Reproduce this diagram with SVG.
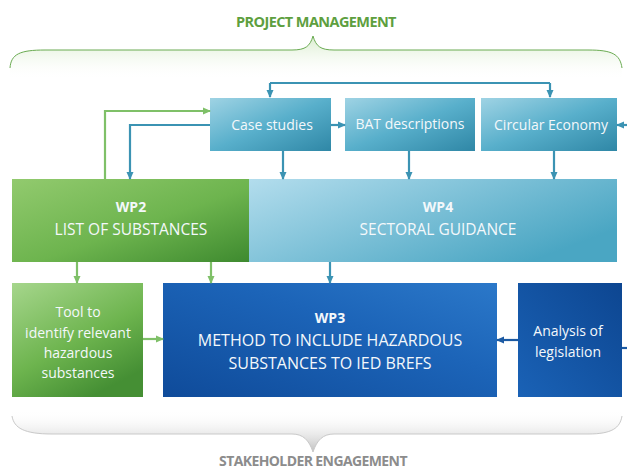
<svg xmlns="http://www.w3.org/2000/svg" width="627" height="470" viewBox="0 0 627 470">
<defs>
<linearGradient id="gLight" x1="0" y1="0" x2="1" y2="1">
<stop offset="0" stop-color="#9fd3e4"/><stop offset="0.5" stop-color="#58afcb"/><stop offset="1" stop-color="#2f87a6"/>
</linearGradient>
<linearGradient id="gWp4" x1="0" y1="0" x2="1" y2="0.6">
<stop offset="0" stop-color="#b3dded"/><stop offset="1" stop-color="#4aa6c3"/>
</linearGradient>
<linearGradient id="gGreen" x1="0" y1="0" x2="1" y2="1">
<stop offset="0" stop-color="#92ca6e"/><stop offset="0.55" stop-color="#6db44e"/><stop offset="1" stop-color="#3e8a2f"/>
</linearGradient>
<linearGradient id="gTool" x1="0" y1="0" x2="0.6" y2="1">
<stop offset="0" stop-color="#a6d68c"/><stop offset="0.6" stop-color="#6db44e"/><stop offset="1" stop-color="#458f34"/>
</linearGradient>
<linearGradient id="gDark" x1="0" y1="1" x2="1" y2="0">
<stop offset="0" stop-color="#0f4b9a"/><stop offset="0.6" stop-color="#1c64b8"/><stop offset="1" stop-color="#2b78c9"/>
</linearGradient>
<linearGradient id="gDark2" x1="0" y1="1" x2="1" y2="0">
<stop offset="0" stop-color="#1a62b6"/><stop offset="1" stop-color="#0d4691"/>
</linearGradient>
<linearGradient id="gTopBrace" x1="0" y1="0" x2="0" y2="1">
<stop offset="0" stop-color="#a9d68e" stop-opacity="0.45"/><stop offset="1" stop-color="#ffffff" stop-opacity="0"/>
</linearGradient>
<linearGradient id="gBotBrace" x1="0" y1="0" x2="0" y2="1">
<stop offset="0" stop-color="#ffffff" stop-opacity="0"/><stop offset="1" stop-color="#b8b8b8" stop-opacity="0.9"/>
</linearGradient>
<marker id="aB" markerWidth="8" markerHeight="8" refX="7" refY="4" orient="auto" markerUnits="userSpaceOnUse">
<path d="M0,0.5 L8,4 L0,7.5 z" fill="#3b93b3"/>
</marker>
<marker id="aG" markerWidth="8" markerHeight="8" refX="7" refY="4" orient="auto" markerUnits="userSpaceOnUse">
<path d="M0,0.5 L8,4 L0,7.5 z" fill="#7fc068"/>
</marker>
<marker id="aD" markerWidth="8" markerHeight="8" refX="7" refY="4" orient="auto" markerUnits="userSpaceOnUse">
<path d="M0,0.5 L8,4 L0,7.5 z" fill="#1c5aa3"/>
</marker>
</defs>
<style>
text{font-family:"Open Sans","DejaVu Sans",sans-serif;fill:#f4f8fb;text-anchor:middle}
.sm{font-size:14px}
.wp{font-size:14px;font-weight:bold}
.md{font-size:15.5px}
.lg{font-size:16px}
.lb{stroke:#3b93b3;stroke-width:2.2;fill:none}
.gr{stroke:#7fc068;stroke-width:2.2;fill:none}
.db{stroke:#1c5aa3;stroke-width:2.2;fill:none}
.hdr{font-size:14.5px;font-weight:bold;letter-spacing:-0.6px}
</style>

<g id="project-management">
<path d="M10,68 C11,54 20,50 45,50 L292,50 C306,50 310,46 313,36 C316,46 320,50 334,50 L588,50 C612,50 620,54 622,68 L622,80 L10,80 z" fill="url(#gTopBrace)"/>
<path d="M10,68 C11,54 20,50 45,50 L292,50 C306,50 310,46 313,36 C316,46 320,50 334,50 L588,50 C612,50 620,54 622,68" fill="none" stroke="#6aab52" stroke-width="1"/>
<text x="316" y="27" class="hdr" style="fill:#5e9f3f">PROJECT MANAGEMENT</text>
</g>

<g id="stakeholder-engagement">
<path d="M12,416 C14,428 24,434 52,434 L292,434 C303,434 309,440 313,452 C317,440 323,434 334,434 L588,434 C612,434 620,428 622,416 L622,410 L12,410 z" fill="url(#gBotBrace)"/>
<path d="M12,416 C14,428 24,434 52,434 L292,434 C303,434 309,440 313,452 C317,440 323,434 334,434 L588,434 C612,434 620,428 622,416" fill="none" stroke="#c9c9c9" stroke-width="1"/>
<text x="313" y="466" class="hdr" style="fill:#8c8c8c;font-size:14px">STAKEHOLDER ENGAGEMENT</text>
</g>

<g id="case-studies">
<rect x="210" y="98" width="121" height="53" fill="url(#gLight)"/>
<text x="272" y="130" class="sm">Case studies</text>
</g>
<g id="bat-descriptions">
<rect x="345" y="98" width="130" height="53" fill="url(#gLight)"/>
<text x="410" y="129" class="sm">BAT descriptions</text>
</g>
<g id="circular-economy">
<rect x="481" y="98" width="136" height="53" fill="url(#gLight)"/>
<text x="551" y="130" class="sm">Circular Economy</text>
</g>

<g id="wp2">
<rect x="12" y="179" width="237" height="83" fill="url(#gGreen)"/>
<text x="131" y="212" class="wp">WP2</text>
<text x="131" y="235" class="md">LIST OF SUBSTANCES</text>
</g>
<g id="wp4">
<rect x="249" y="179" width="368" height="83" fill="url(#gWp4)"/>
<text x="438" y="212" class="wp">WP4</text>
<text x="438" y="235" class="md">SECTORAL GUIDANCE</text>
</g>

<g id="tool">
<rect x="12" y="283" width="131" height="114" fill="url(#gTool)"/>
<text x="78" y="317" class="sm">Tool to</text>
<text x="78" y="338" class="sm">identify relevant</text>
<text x="78" y="358" class="sm">hazardous</text>
<text x="78" y="378" class="sm">substances</text>
</g>
<g id="wp3">
<rect x="163" y="283" width="334" height="114" fill="url(#gDark)"/>
<text x="330" y="323" class="wp">WP3</text>
<text x="330" y="346" class="lg">METHOD TO INCLUDE HAZARDOUS</text>
<text x="330" y="369" class="lg">SUBSTANCES TO IED BREFS</text>
</g>
<g id="analysis">
<rect x="518" y="283" width="104" height="114" fill="url(#gDark2)"/>
<text x="568" y="336" class="sm">Analysis of</text>
<text x="568" y="357" class="sm">legislation</text>
</g>

<g id="connectors">
<path class="lb" d="M270,83 L550,83"/>
<path class="lb" d="M550,83 L550,97" marker-end="url(#aB)"/>
<path class="lb" d="M270,83 L270,97" marker-end="url(#aB)"/>
<path class="lb" d="M331,125 L345,125" marker-end="url(#aB)"/>
<path class="lb" d="M627,125 L617,125" marker-end="url(#aB)"/>
<path class="lb" d="M283,151 L283,179" marker-end="url(#aB)"/>
<path class="lb" d="M409,151 L409,179" marker-end="url(#aB)"/>
<path class="lb" d="M554,151 L554,179" marker-end="url(#aB)"/>
<path class="lb" d="M210,125 L130,125 L130,179" marker-end="url(#aB)"/>
<path class="gr" d="M105,179 L105,111 L210,111" marker-end="url(#aG)"/>
<path class="gr" d="M77,262 L77,283" marker-end="url(#aG)"/>
<path class="gr" d="M211,262 L211,283" marker-end="url(#aG)"/>
<path class="lb" d="M330,262 L330,283" marker-end="url(#aB)"/>
<path class="gr" d="M143,339 L163,339" marker-end="url(#aG)"/>
<path class="db" d="M518,340 L497,340" marker-end="url(#aD)"/>
<path class="db" d="M622,348 L627,348"/>
</g>
</svg>
